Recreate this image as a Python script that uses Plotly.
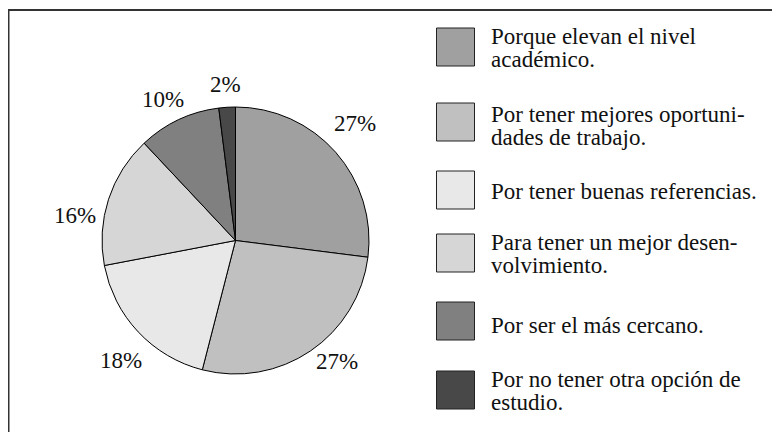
import math
import plotly.graph_objects as go

categories = [
    "Porque elevan el nivel<br>académico.",
    "Por tener mejores oportuni-<br>dades de trabajo.",
    "Por tener buenas referencias.",
    "Para tener un mejor desen-<br>volvimiento.",
    "Por ser el más cercano.",
    "Por no tener otra opción de<br>estudio.",
]
values = [27, 27, 18, 16, 10, 2]
colors = ["#a0a0a0", "#c0c0c0", "#e8e8e8", "#d6d6d6", "#808080", "#484848"]

W, H = 780, 432
OFF = 8  # page body margin in the screenshot
FONT = "Liberation Serif, Times New Roman, serif"

def px(x):
    return (x - OFF) / W

def py(y):
    return 1 - (y - OFF) / H

# pie geometry (screen pixels)
cx, cy, r = 235.5, 240.5, 133.5

# label placement tweaks (degrees of rotation from slice mid-angle, distance from centre)
label_nudge_deg = [-3, -6, -3, -9, -2, 0]
label_dist = [167, 158, 166, 162, 158, 156]

fig = go.Figure()
fig.add_trace(go.Pie(
    values=values,
    labels=categories,
    sort=False,
    direction="clockwise",
    rotation=0,
    marker=dict(colors=colors, line=dict(color="#000000", width=1)),
    textinfo="none",
    showlegend=False,
    hoverinfo="label+percent",
    domain=dict(x=[px(cx - r), px(cx + r)], y=[py(cy + r), py(cy - r)]),
))

shapes = [
    dict(type="line", xref="paper", yref="paper", x0=0, x1=1, y0=py(10), y1=py(10),
         line=dict(color="#333333", width=2)),
    dict(type="line", xref="paper", yref="paper", x0=0, x1=0, y0=0, y1=py(9),
         line=dict(color="#333333", width=3)),
]
annotations = []

total = sum(values)
cum = 0
for v, nudge, dist in zip(values, label_nudge_deg, label_dist):
    mid = (cum + v / 2) / total * 360 + nudge
    cum += v
    pct = f"{round(v / total * 100)}%"
    a = math.radians(mid)
    lx, ly = cx + dist * math.sin(a), cy - dist * math.cos(a)
    annotations.append(dict(xref="paper", yref="paper", x=px(lx), y=py(ly),
                            xanchor="center", yanchor="middle", showarrow=False, text=pct,
                            font=dict(family=FONT, size=23, color="#111111")))

box_tops = [28, 103, 171, 234, 302, 371]
text_tops = [22, 100, 177, 228, 311, 365]
box_x0, box_size = 436.5, 38
text_x = 489
line_step = 23

for cat, col, bt, tt in zip(categories, colors, box_tops, text_tops):
    shapes.append(dict(type="rect", xref="paper", yref="paper",
                       x0=px(box_x0), x1=px(box_x0 + box_size),
                       y0=py(bt + box_size), y1=py(bt),
                       fillcolor=col, line=dict(color="#222222", width=1)))
    for i, line in enumerate(cat.split("<br>")):
        annotations.append(dict(xref="paper", yref="paper", x=px(text_x), y=py(tt + i * line_step),
                                xanchor="left", yanchor="top", showarrow=False, text=line,
                                font=dict(family=FONT, size=23, color="#111111")))

fig.update_layout(
    width=W, height=H,
    margin=dict(l=0, r=0, t=0, b=0),
    paper_bgcolor="white", plot_bgcolor="white",
    shapes=shapes, annotations=annotations,
)

fig.write_html("out.html")
